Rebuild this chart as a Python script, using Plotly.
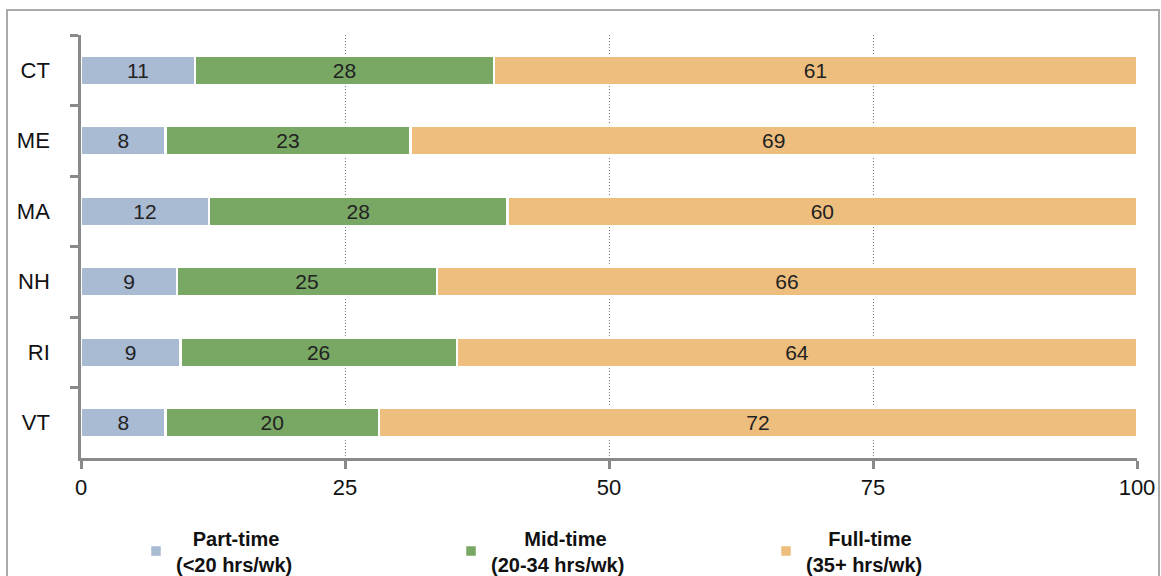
import plotly.graph_objects as go

states = ["CT", "ME", "MA", "NH", "RI", "VT"]
part_time = [10.8, 8.0, 12.1, 9.1, 9.4, 8.0]
mid_time = [28.3, 23.2, 28.3, 24.6, 26.2, 20.2]
full_time = [60.9, 68.8, 59.6, 66.3, 64.4, 71.8]
series_names = [
    "\u00a0\u00a0\u00a0Part-time<br>(<20 hrs/wk)",
    "\u00a0\u00a0\u00a0\u00a0\u00a0\u00a0Mid-time<br>(20-34 hrs/wk)",
    "\u00a0\u00a0\u00a0\u00a0Full-time<br>(35+ hrs/wk)",
]
colors = ["#A9BAD3", "#78A864", "#EDBE7E"]
x_ticks = [0, 25, 50, 75, 100]

FONT = "Liberation Sans, Arial, sans-serif"

W, H = 1161, 576
L, T, R, B = 81, 35, 24, 118
PW, PH = W - L - R, H - T - B

fig = go.Figure()
for name, vals, col in zip(series_names, [part_time, mid_time, full_time], colors):
    fig.add_trace(go.Bar(
        y=states, x=vals, name=name, orientation="h",
        marker=dict(color=col, line=dict(color="white", width=2.5)),
        texttemplate="%{x:.0f}", textposition="inside", insidetextanchor="middle",
        textangle=0, constraintext="none",
        textfont=dict(color="#222222", size=21, family=FONT),
        width=0.42,
    ))

fig.update_layout(
    barmode="stack",
    width=W, height=H,
    margin=dict(l=L, r=R, t=T, b=B, autoexpand=False),
    paper_bgcolor="white", plot_bgcolor="white",
    font=dict(family=FONT, color="#111111", size=21),
    showlegend=True,
    legend=dict(
        orientation="h", x=(136 - L) / PW, xanchor="left", y=-0.22, yanchor="middle",
        entrywidth=270, entrywidthmode="pixels",
        font=dict(size=20, family=FONT, color="#111111", weight="bold"),
        traceorder="normal",
    ),
)
fig.update_xaxes(
    range=[0, 100], tickvals=x_ticks, ticktext=[str(v) for v in x_ticks],
    showgrid=True, gridcolor="#777777", griddash="1px,2px", gridwidth=1,
    zeroline=False, showline=True, linecolor="#8a8a8a", linewidth=2.5,
    ticks="outside", ticklen=8, tickwidth=2.5, tickcolor="#8a8a8a",
    tickfont=dict(size=22), fixedrange=True, automargin=False,
)
fig.update_yaxes(
    categoryorder="array", categoryarray=states, autorange="reversed",
    showgrid=False, zeroline=False, showline=True, linecolor="#8a8a8a", linewidth=2.5,
    ticks="outside", tickson="boundaries", ticklen=8, tickwidth=2.5, tickcolor="#8a8a8a",
    ticklabelstandoff=24, tickfont=dict(size=22), automargin=False,
)
# outer frame
fig.add_shape(type="rect", xref="paper", yref="paper",
              x0=(7 - L) / PW, x1=(1159 - L) / PW,
              y0=-0.6, y1=1 + (T - 10) / PH,
              line=dict(color="#aaaaaa", width=2), layer="below")

fig.write_html(
    "out.html",
    config={"displayModeBar": False},
    post_script="document.body.style.margin='0';"
                "document.documentElement.style.overflow='hidden';"
                "document.body.style.overflow='hidden';",
)
